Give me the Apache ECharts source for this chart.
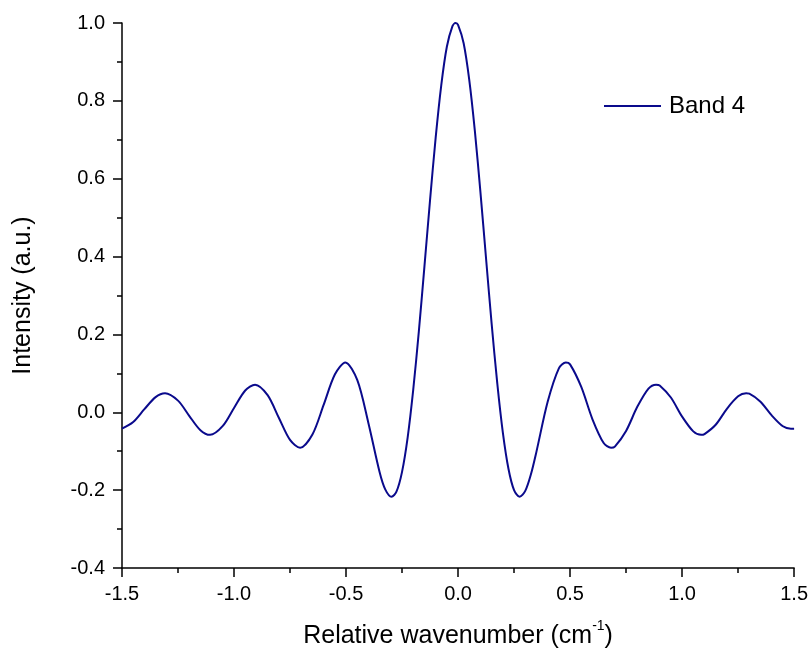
<!DOCTYPE html>
<html>
<head>
<meta charset="utf-8">
<script src="https://cdn.jsdelivr.net/npm/echarts@6/dist/echarts.min.js"></script>
<style>
html,body{margin:0;padding:0;background:#fff;}
#c{width:811px;height:654px;}
</style>
</head>
<body>
<div id="c"></div>
<script>
// Relative wavenumber (cm-1)
const xValues = [-1.5,-1.45,-1.4,-1.35,-1.308,-1.25,-1.2,-1.15,-1.107,-1.05,-1.0,-0.95,-0.906,-0.85,-0.8,-0.75,-0.705,-0.65,-0.6,-0.55,-0.503,-0.45,-0.4,-0.35,-0.325,-0.297,-0.275,-0.25,-0.225,-0.2,-0.175,-0.15,-0.125,-0.1,-0.075,-0.05,-0.025,-0.011,0.0,0.025,0.05,0.075,0.1,0.125,0.15,0.175,0.2,0.225,0.25,0.275,0.3,0.325,0.35,0.4,0.45,0.481,0.5,0.55,0.6,0.65,0.683,0.7,0.75,0.8,0.85,0.884,0.9,0.95,1.0,1.05,1.085,1.1,1.15,1.2,1.25,1.286,1.3,1.35,1.4,1.45,1.486,1.5];
// Band 4 intensity (a.u.)
const band4 = [-0.042,-0.025,0.008,0.039,0.049,0.030,-0.009,-0.046,-0.058,-0.035,0.011,0.056,0.071,0.044,-0.014,-0.071,-0.091,-0.057,0.019,0.097,0.128,0.083,-0.028,-0.154,-0.198,-0.217,-0.204,-0.153,-0.065,0.058,0.208,0.375,0.545,0.705,0.840,0.939,0.992,1.0,0.995,0.948,0.854,0.723,0.565,0.395,0.227,0.075,-0.052,-0.145,-0.200,-0.217,-0.202,-0.160,-0.101,0.027,0.113,0.128,0.123,0.065,-0.018,-0.079,-0.091,-0.088,-0.048,0.014,0.061,0.071,0.069,0.038,-0.011,-0.049,-0.058,-0.056,-0.032,0.009,0.041,0.049,0.048,0.027,-0.008,-0.036,-0.042,-0.042];
const seriesName = 'Band 4';
const xTicks = ['-1.5','-1.0','-0.5','0.0','0.5','1.0','1.5'];
const yTicks = ['-0.4','-0.2','0.0','0.2','0.4','0.6','0.8','1.0'];

const data = xValues.map((x, i) => [x, band4[i]]);
const font = 'Liberation Sans, Arial, sans-serif';
const lineColor = '#0a0a8c';

const chart = echarts.init(document.getElementById('c'), null, {renderer: 'canvas'});
chart.setOption({
  animation: false,
  backgroundColor: '#ffffff',
  grid: {left: 122, right: 16, top: 23, bottom: 84, containLabel: false},
  legend: {
    left: 604, top: 94, padding: 0,
    icon: 'path://M0,0H57V2H0Z',
    itemWidth: 57, itemHeight: 2,
    data: [seriesName],
    itemStyle: {color: lineColor},
    textStyle: {fontFamily: font, fontSize: 24, color: '#000', padding: [0,0,0,3]}
  },
  xAxis: {
    type: 'value', min: -1.5, max: 1.5, interval: 0.5,
    name: '{a|Relative wavenumber (cm}{s|-1}{a|)}',
    nameLocation: 'middle', nameGap: 51,
    nameTextStyle: {
      fontFamily: font, color: '#000',
      rich: {
        a: {fontFamily: font, fontSize: 25, color: '#000', lineHeight: 30, verticalAlign: 'bottom'},
        s: {fontFamily: font, fontSize: 14, color: '#000', lineHeight: 30, verticalAlign: 'top'}
      }
    },
    axisLine: {show: true, onZero: false, lineStyle: {color: '#000', width: 1.5}},
    axisTick: {show: true, inside: false, length: 9, lineStyle: {color: '#000', width: 1.5}},
    minorTick: {show: true, splitNumber: 2, length: 5, lineStyle: {color: '#000', width: 1.5}},
    splitLine: {show: false},
    axisLabel: {
      fontFamily: font, fontSize: 20, color: '#000', margin: 16,
      formatter: v => { const i = Math.round((v + 1.5) / 0.5); return xTicks[i] !== undefined ? xTicks[i] : ''; }
    }
  },
  yAxis: {
    type: 'value', min: -0.4, max: 1.0, interval: 0.2,
    name: 'Intensity (a.u.)',
    nameLocation: 'middle', nameGap: 86, nameRotate: 90,
    nameTextStyle: {fontFamily: font, fontSize: 25, color: '#000'},
    axisLine: {show: true, onZero: false, lineStyle: {color: '#000', width: 1.5}},
    axisTick: {show: true, inside: false, length: 9, lineStyle: {color: '#000', width: 1.5}},
    minorTick: {show: true, splitNumber: 2, length: 5, lineStyle: {color: '#000', width: 1.5}},
    splitLine: {show: false},
    axisLabel: {
      fontFamily: font, fontSize: 20, color: '#000', margin: 17,
      formatter: v => { const i = Math.round((v + 0.4) / 0.2); return yTicks[i] !== undefined ? yTicks[i] : ''; }
    }
  },
  series: [{
    name: seriesName,
    type: 'line',
    data: data,
    smooth: 0.3,
    symbol: 'none',
    showSymbol: false,
    lineStyle: {color: lineColor, width: 2},
    itemStyle: {color: lineColor}
  }]
});
</script>
</body>
</html>
